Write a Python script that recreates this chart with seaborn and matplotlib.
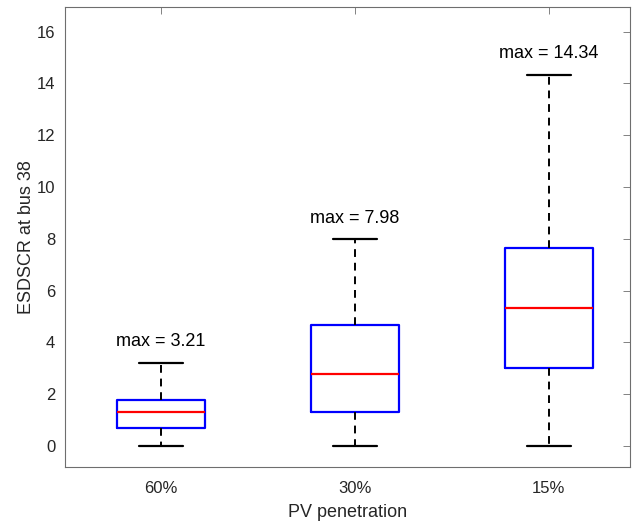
import numpy as np
import pandas as pd
import matplotlib
matplotlib.use("Agg")
import matplotlib.pyplot as plt
import seaborn as sns

# Data: five-number summaries (min, Q1, median, Q3, max)
categories = ["60%", "30%", "15%"]
mins = [0.0, 0.0, 0.0]
q1s = [0.70, 1.30, 3.03]
medians = [1.30, 2.77, 5.33]
q3s = [1.77, 4.69, 7.65]
maxs = [3.21, 7.98, 14.34]
yticks = [0, 2, 4, 6, 8, 10, 12, 14, 16]

sns.set_theme(style="white")
plt.rcParams["font.family"] = ["Liberation Sans", "DejaVu Sans"]

rows = []
for c, a, b, m, d, e in zip(categories, mins, q1s, medians, q3s, maxs):
    for v in (a, b, m, d, e):
        rows.append({"PV penetration": c, "value": v})
df = pd.DataFrame(rows)

fig = plt.figure(figsize=(6.36, 5.22), dpi=100)
ax = fig.add_axes([65 / 636, 1 - 466.7 / 522, (630 - 65) / 636, (466.7 - 7) / 522])

sns.boxplot(
    data=df, x="PV penetration", y="value", order=categories,
    whis=(0, 100), width=0.45, fill=False, ax=ax, linewidth=1.5,
    boxprops=dict(color="#0000FF", linewidth=1.6),
    medianprops=dict(color="#FF0000", linewidth=1.6),
    whiskerprops=dict(color="black", linestyle=(0, (4, 3)), linewidth=1.4),
    capprops=dict(color="black", linewidth=1.6),
    flierprops=dict(marker=""),
)

for i, mx in enumerate(maxs):
    ax.text(i, mx + 0.48, f"max = {mx:.2f}", ha="center", va="bottom",
            fontsize=13, color="black")

ax.set_xlim(-0.495, 2.418)
ax.set_ylim(-0.8, 16.95)
ax.set_yticks(yticks)
ax.set_yticklabels([str(t) for t in yticks])
ax.set_xlabel("PV penetration", fontsize=13, color="#262626", labelpad=5.5)
ax.set_ylabel("ESDSCR at bus 38", fontsize=13, color="#262626", labelpad=1.5)

for s in ax.spines.values():
    s.set_visible(True)
    s.set_color("#6e6e6e")
    s.set_linewidth(0.8)
ax.tick_params(axis="both", direction="in", length=5, width=0.6,
               colors="#6e6e6e", labelsize=12, top=True, right=True,
               labelcolor="#262626")
ax.tick_params(axis="x", pad=10.5)
ax.tick_params(axis="y", pad=7)

fig.savefig("out.png", dpi=100)
